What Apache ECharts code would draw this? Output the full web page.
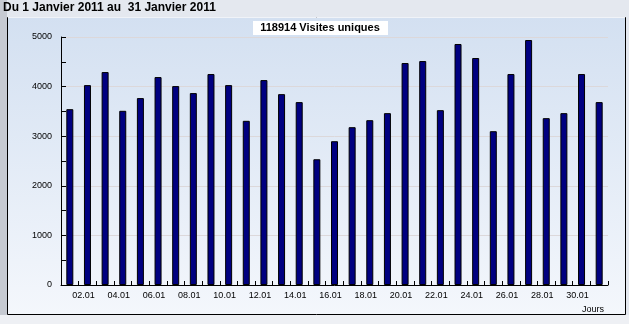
<!DOCTYPE html>
<html>
<head>
<meta charset="utf-8">
<script src="https://cdn.jsdelivr.net/npm/echarts@6/dist/echarts.min.js"></script>
<style>html,body{margin:0;padding:0;background:#e6e9ef;}#c{width:629px;height:324px;}</style>
</head>
<body>
<div id="c"></div>
<script>
const categories = ["01.01","02.01","03.01","04.01","05.01","06.01","07.01","08.01","09.01","10.01","11.01","12.01","13.01","14.01","15.01","16.01","17.01","18.01","19.01","20.01","21.01","22.01","23.01","24.01","25.01","26.01","27.01","28.01","29.01","30.01","31.01"];
const visits = [3545,4030,4293,3512,3768,4192,4010,3869,4253,4030,3310,4131,3848,3687,2535,2899,3182,3323,3465,4475,4515,3525,4859,4576,3101,4253,4939,3364,3465,4253,3687];
const titleText = "Du 1 Janvier 2011 au  31 Janvier 2011";
const totalText = "118914 Visites uniques";
const xAxisName = "Jours";

const chart = echarts.init(document.getElementById('c'), null, {renderer:'canvas'});
const lblFont = {fontFamily:'Liberation Sans, Arial, sans-serif', fontSize:9, color:'#000'};
chart.setOption({
  backgroundColor:'#e4e8ef',
  animation:false,
  graphic:[
    {type:'rect', z:-10, shape:{x:0,y:0,width:7,height:324}, style:{fill:'#c6cad2'}},
    {type:'rect', z:-10, shape:{x:0,y:315,width:629,height:9}, style:{fill:'#eef0f4'}},
    {type:'rect', z:-9, shape:{x:7.5,y:17.5,width:618,height:297},
      style:{fill:new echarts.graphic.LinearGradient(0,0,0,1,[{offset:0,color:'#d3e0f1'},{offset:1,color:'#f4f7fc'}]), stroke:'#000', lineWidth:1}},
    {type:'line', z:-8, shape:{x1:8,y1:17.5,x2:625,y2:17.5}, style:{stroke:'#f0f3f8', lineWidth:1}},
    {type:'text', z:5, left:3, top:2, style:{text:titleText, font:'bold 12px Liberation Sans, Arial, sans-serif', fill:'#000'}},
    {type:'rect', z:5, shape:{x:253,y:21,width:135,height:14}, style:{fill:'#ffffff'}},
    {type:'text', z:6, x:320, y:28, style:{text:totalText, font:'bold 11px Liberation Sans, Arial, sans-serif', fill:'#000', align:'center', verticalAlign:'middle'}},
    {type:'text', z:6, x:604, y:310, style:{text:xAxisName, font:'9px Liberation Sans, Arial, sans-serif', fill:'#000', align:'right', verticalAlign:'middle'}}
  ],
  grid:{left:61, top:37, right:21, bottom:39, containLabel:false},
  xAxis:{
    type:'category', data:categories, boundaryGap:true,
    axisLine:{lineStyle:{color:'#000', width:1}},
    axisTick:{show:true, inside:true, length:4, interval:0, lineStyle:{color:'#000'}},
    axisLabel:Object.assign({interval:(i)=>i%2===1, margin:6, padding:[0,8,0,0]}, lblFont),
    splitLine:{show:false}
  },
  yAxis:{
    type:'value', min:0, max:5000, interval:1000,
    axisLine:{show:true, lineStyle:{color:'#000', width:1}},
    axisTick:{show:true, inside:true, length:5, lineStyle:{color:'#000'}},
    minorTick:{show:true, splitNumber:2, length:5, lineStyle:{color:'#000'}},
    axisLabel:Object.assign({margin:9, formatter:(v)=>String(v)}, lblFont),
    splitLine:{show:true, lineStyle:{color:'#dcd8da', width:1}}
  },
  series:[{
    type:'bar', data:visits, barWidth:7,
    itemStyle:{color:'#000080', borderColor:'#000', borderWidth:1}
  }]
});
</script>
</body>
</html>
